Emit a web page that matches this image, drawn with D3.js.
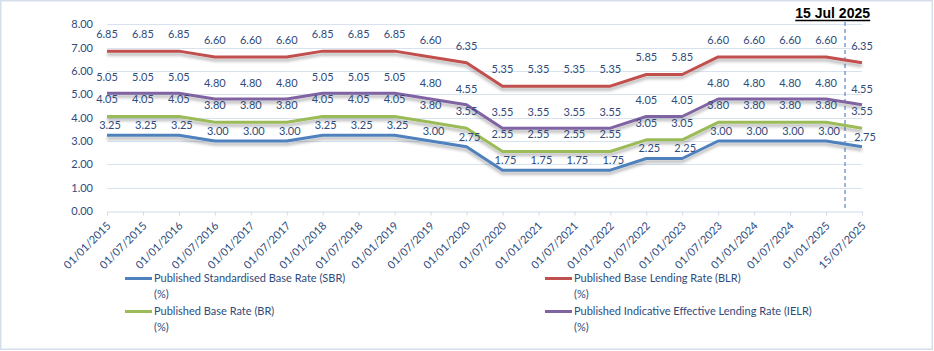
<!DOCTYPE html>
<html>
<head>
<meta charset="utf-8">
<script src="https://cdn.jsdelivr.net/npm/d3@7"></script>
<style>
  body { margin: 0; background: #fff; }
  svg text { font-family: Lato, "Liberation Sans", sans-serif; }
</style>
</head>
<body>
<div id="rateChart"></div>
<script>
// categories (x axis)
const dates = ["01/01/2015", "01/07/2015", "01/01/2016", "01/07/2016", "01/01/2017", "01/07/2017",
    "01/01/2018", "01/07/2018", "01/01/2019", "01/07/2019", "01/01/2020", "01/07/2020",
    "01/01/2021", "01/07/2021", "01/01/2022", "01/07/2022", "01/01/2023", "01/07/2023",
    "01/01/2024", "01/07/2024", "01/01/2025", "15/07/2025"];

// series values (%)
const blr = [6.85, 6.85, 6.85, 6.60, 6.60, 6.60, 6.85, 6.85, 6.85, 6.60, 6.35, 5.35,
    5.35, 5.35, 5.35, 5.85, 5.85, 6.60, 6.60, 6.60, 6.60, 6.35];
const ielr = [5.05, 5.05, 5.05, 4.80, 4.80, 4.80, 5.05, 5.05, 5.05, 4.80, 4.55, 3.55,
    3.55, 3.55, 3.55, 4.05, 4.05, 4.80, 4.80, 4.80, 4.80, 4.55];
const br = [4.05, 4.05, 4.05, 3.80, 3.80, 3.80, 4.05, 4.05, 4.05, 3.80, 3.55, 2.55,
    2.55, 2.55, 2.55, 3.05, 3.05, 3.80, 3.80, 3.80, 3.80, 3.55];
const sbr = [3.25, 3.25, 3.25, 3.00, 3.00, 3.00, 3.25, 3.25, 3.25, 3.00, 2.75, 1.75,
    1.75, 1.75, 1.75, 2.25, 2.25, 3.00, 3.00, 3.00, 3.00, 2.75];

const yTicks = [0, 1, 2, 3, 4, 5, 6, 7, 8];
const markerDate = "15/07/2025";
const markerLabel = "15 Jul 2025";

const seriesNames = [
    "Published Standardised Base Rate (SBR)",
    "Published Base Lending Rate (BLR)",
    "Published Base Rate (BR)",
    "Published Indicative Effective Lending Rate (IELR)"
];

// styling per series (kept apart from the data)
const series = [
    { name: seriesNames[0], values: sbr, color: "#4F81BD", labelDy: -10, labelDx: 3 },
    { name: seriesNames[1], values: blr, color: "#C0504D", labelDy: -17, labelDx: 0 },
    { name: seriesNames[2], values: br, color: "#9BBB59", labelDy: -17, labelDx: 0 },
    { name: seriesNames[3], values: ielr, color: "#8064A2", labelDy: -16, labelDx: 0 }
];

const W = 934, H = 351;
const margin = { top: 24.3, right: 72, bottom: 140, left: 107 };
const textColor = "#2F4B7C";

const svg = d3.select("#rateChart")
    .append("svg")
    .attr("width", W)
    .attr("height", H);

// shadow under the lines
const defs = svg.append("defs");
const filt = defs.append("filter")
    .attr("id", "shadow")
    .attr("x", "-5%").attr("y", "-50%")
    .attr("width", "110%").attr("height", "200%");
filt.append("feDropShadow")
    .attr("dx", 0).attr("dy", 3)
    .attr("stdDeviation", 1.6)
    .attr("flood-color", "#000")
    .attr("flood-opacity", 0.28);

// chart border
svg.append("rect")
    .attr("x", 0.75).attr("y", 0.75)
    .attr("width", W - 2.5).attr("height", H - 2.5)
    .attr("fill", "#fff")
    .attr("stroke", "#D5DFEB")
    .attr("stroke-width", 1.5);

const x = d3.scalePoint()
    .domain(dates)
    .range([margin.left, W - margin.right]);

const y = d3.scaleLinear()
    .domain([0, 8])
    .range([H - margin.bottom, margin.top]);

// gridlines
svg.append("g")
    .selectAll("line")
    .data(yTicks.filter(d => d > 0))
    .join("line")
    .attr("x1", margin.left)
    .attr("x2", W - margin.right)
    .attr("y1", d => Math.round(y(d)) + 0.5)
    .attr("y2", d => Math.round(y(d)) + 0.5)
    .attr("stroke", "#D9E3F0")
    .attr("stroke-width", 1);

// y axis labels
const yAxis = svg.append("g")
    .attr("transform", `translate(${margin.left},0)`)
    .call(d3.axisLeft(y).tickValues(yTicks).tickFormat(d3.format(".2f")).tickSize(0).tickPadding(14));
yAxis.select(".domain").remove();
yAxis.selectAll("text")
    .attr("fill", textColor)
    .style("font-size", "11px");

// x axis
const xAxis = svg.append("g")
    .attr("transform", `translate(0,${Math.round(y(0)) + 0.5})`)
    .call(d3.axisBottom(x).tickSize(4).tickSizeOuter(0));
xAxis.select(".domain").attr("stroke", "#D0DBEA");
xAxis.selectAll(".tick line").attr("stroke", "#D0DBEA");
xAxis.selectAll("text")
    .attr("fill", textColor)
    .style("font-size", "11px")
    .attr("text-anchor", "end")
    .attr("x", 0).attr("y", 0).attr("dy", 0)
    .attr("transform", "translate(4,15) rotate(-45)");

// dashed marker line + date label
const mx = x(markerDate) - 17;
svg.append("line")
    .attr("x1", mx).attr("x2", mx)
    .attr("y1", 22).attr("y2", 208)
    .attr("stroke", "#5B87C5")
    .attr("stroke-width", 1.2)
    .attr("stroke-dasharray", "4,3");

const mLabel = svg.append("text")
    .attr("x", 870)
    .attr("y", 18)
    .attr("text-anchor", "end")
    .attr("fill", "#000")
    .style("font-family", "'Liberation Sans', Arial, sans-serif")
    .style("font-size", "14px")
    .style("font-weight", "bold")
    .text(markerLabel);
const mb = mLabel.node().getBBox();
svg.append("line")
    .attr("x1", mb.x).attr("x2", mb.x + mb.width)
    .attr("y1", 20.5).attr("y2", 20.5)
    .attr("stroke", "#000")
    .attr("stroke-width", 1.3);

// lines
const line = d3.line()
    .x((d, i) => x(dates[i]))
    .y(d => y(d));

const order = [1, 3, 2, 0];
order.forEach(function (k) {
    const s = series[k];
    svg.append("path")
        .datum(s.values)
        .attr("fill", "none")
        .attr("stroke", s.color)
        .attr("stroke-width", 3)
        .attr("stroke-linejoin", "round")
        .attr("filter", "url(#shadow)")
        .attr("d", line);
});

// data labels
series.forEach(function (s) {
    svg.append("g")
        .selectAll("text")
        .data(s.values)
        .join("text")
        .attr("x", (d, i) => x(dates[i]) + s.labelDx)
        .attr("y", d => y(d) + s.labelDy)
        .attr("dy", "0.35em")
        .attr("text-anchor", "middle")
        .attr("fill", textColor)
        .style("font-size", "11px")
        .text(d => d3.format(".2f")(d));
});

// legend (two columns)
const legendPos = [
    { lx: 125, ly: 278.5 },
    { lx: 545, ly: 278.5 },
    { lx: 125, ly: 311.5 },
    { lx: 545, ly: 311.5 }
];
series.forEach(function (s, i) {
    const p = legendPos[i];
    const g = svg.append("g");
    g.append("line")
        .attr("x1", p.lx).attr("x2", p.lx + 27)
        .attr("y1", p.ly).attr("y2", p.ly)
        .attr("stroke", s.color)
        .attr("stroke-width", 3);
    g.append("text")
        .attr("x", p.lx + 29)
        .attr("y", p.ly)
        .attr("dy", "0.35em")
        .attr("fill", textColor)
        .style("font-size", "11px")
        .text(s.name);
    g.append("text")
        .attr("x", p.lx + 29)
        .attr("y", p.ly + 15.7)
        .attr("dy", "0.35em")
        .attr("fill", textColor)
        .style("font-size", "11px")
        .text("(%)");
});
</script>
</body>
</html>
